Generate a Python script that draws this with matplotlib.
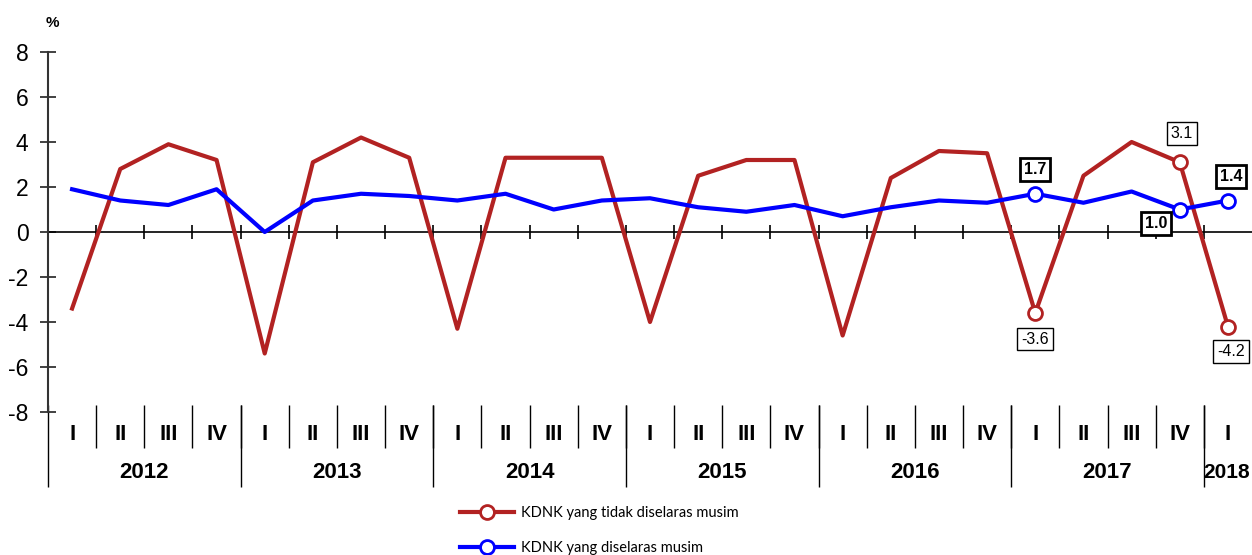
import matplotlib
matplotlib.use("Agg")
import matplotlib.pyplot as plt
from matplotlib.lines import Line2D
from matplotlib.transforms import blended_transform_factory

# KDNK growth, quarter on quarter (%), 2012 Q1 .. 2018 Q1
years = ["2012", "2013", "2014", "2015", "2016", "2017", "2018"]
quarters = ["I", "II", "III", "IV"]
tidak_diselaras = [-3.4, 2.8, 3.9, 3.2, -5.4, 3.1, 4.2, 3.3, -4.3, 3.3, 3.3, 3.3,
                   -4.0, 2.5, 3.2, 3.2, -4.6, 2.4, 3.6, 3.5, -3.6, 2.5, 4.0, 3.1, -4.2]
diselaras = [1.9, 1.4, 1.2, 1.9, 0.0, 1.4, 1.7, 1.6, 1.4, 1.7, 1.0, 1.4,
             1.5, 1.1, 0.9, 1.2, 0.7, 1.1, 1.4, 1.3, 1.7, 1.3, 1.8, 1.0, 1.4]
highlight = [20, 23, 24]

red = "#B22222"
blue = "#0000FF"
n = len(diselaras)
x = list(range(n))
qlabels = [quarters[i % 4] for i in range(n)]

plt.rcParams["font.family"] = ["Liberation Sans", "DejaVu Sans"]
plt.rcParams["axes.unicode_minus"] = False

fig = plt.figure(figsize=(12.52, 5.55), dpi=100)
ax = fig.add_axes([48 / 1252, (555 - 412) / 555, 1 - 48 / 1252, 360 / 555])

ax.plot(x, tidak_diselaras, color=red, lw=3, marker="o", markevery=highlight,
        ms=10, mfc="white", mec=red, mew=2, zorder=3, clip_on=False)
ax.plot(x, diselaras, color=blue, lw=3, marker="o", markevery=highlight,
        ms=10, mfc="white", mec=blue, mew=2, zorder=4, clip_on=False)

ax.set_xlim(-0.5, n - 0.5)
ax.set_ylim(-8, 8)
ax.set_yticks(range(-8, 9, 2))
ax.set_xticks([])
ax.tick_params(axis="y", direction="inout", length=12, width=1.3, pad=8,
               labelsize=16.5, color="#333333")
for s in ["top", "right", "bottom"]:
    ax.spines[s].set_visible(False)
ax.spines["left"].set_color("#333333")
ax.spines["left"].set_linewidth(1.5)

# zero line with quarter ticks
ax.axhline(0, color="black", lw=1.2, zorder=2)
bounds = [k + 0.5 for k in range(n - 1)]
ax.vlines(bounds, -0.33, 0.33, color="black", lw=1.2, zorder=2)

# category axis below
trans = blended_transform_factory(ax.transData, ax.transAxes)
ax.vlines(bounds, (412 - 448) / 360, (412 - 405) / 360, transform=trans,
          color="black", lw=1, clip_on=False)
year_bounds = [-0.5 + 4 * k for k in range(len(years))]
ax.vlines(year_bounds, (412 - 487) / 360, (412 - 405) / 360, transform=trans,
          color="black", lw=1, clip_on=False)
for i, q in enumerate(qlabels):
    ax.text(i, (412 - 434) / 360, q, transform=trans, ha="center", va="center",
            fontsize=16, fontweight="bold")
for k, yr in enumerate(years):
    last = k == len(years) - 1
    cx = n - 1.03 if last else 4 * k + 1.5
    ax.text(cx, (412 - 472) / 360, yr, transform=trans, ha="center", va="center",
            fontsize=15 if last else 16, fontweight="bold", clip_on=False)

# data labels
def label(i, vals, dx, dy, bold):
    ax.annotate(f"{vals[i]:.1f}", (i, vals[i]), xytext=(dx, dy),
                textcoords="offset pixels", ha="center", va="center",
                fontsize=11.5, fontweight="bold" if bold else "normal",
                bbox=dict(boxstyle="square,pad=0.25", fc="white", ec="black",
                          lw=2 if bold else 1), zorder=5, annotation_clip=False)

label(20, tidak_diselaras, 0, -26, False)
label(23, tidak_diselaras, 2, 29, False)
label(24, tidak_diselaras, 3, -25, False)
label(20, diselaras, 0, 24, True)
label(23, diselaras, -24, -14, True)
label(24, diselaras, 3, 24, True)

fig.text(52 / 1252, 1 - 23 / 555, "%", ha="center", va="center",
         fontsize=11, fontweight="bold")

handles = [Line2D([], [], color=red, lw=3, marker="o", ms=10, mfc="white", mew=2),
           Line2D([], [], color=blue, lw=3, marker="o", ms=10, mfc="white", mew=2)]
fig.legend(handles, ["KDNK yang tidak diselaras musim", "KDNK yang diselaras musim"],
           loc="upper left", bbox_to_anchor=(460 / 1252, 1 - 506 / 555),
           frameon=False, borderpad=0, borderaxespad=0, handlelength=3.7,
           handletextpad=0.5, labelspacing=1.45, prop={"family": "Lato", "size": 10.5})

fig.savefig("out.png", dpi=100)
